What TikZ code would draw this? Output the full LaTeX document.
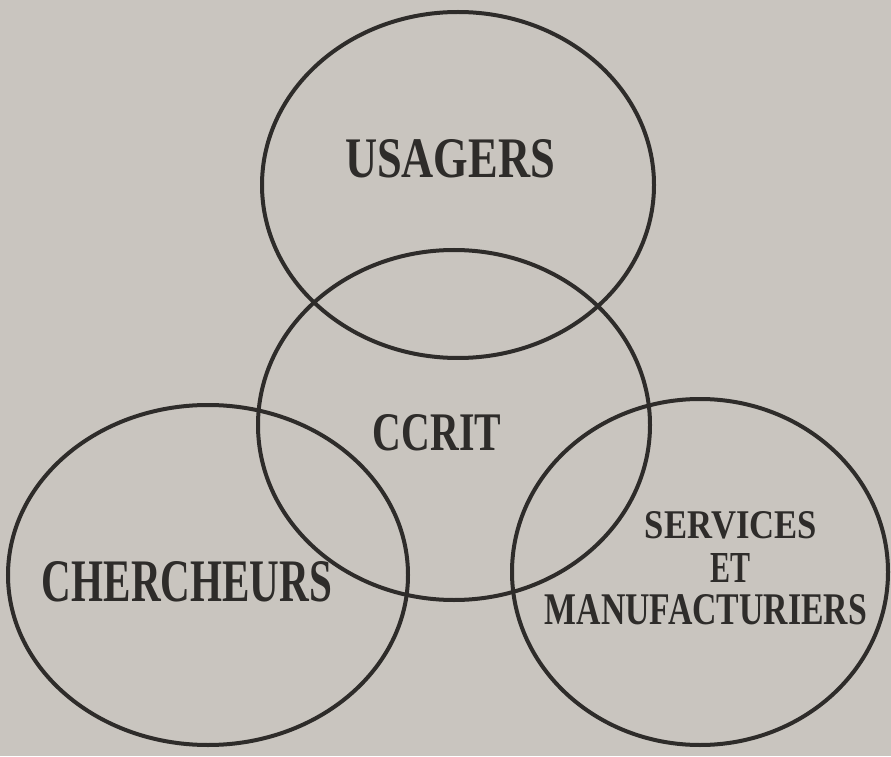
\documentclass[tikz,border=0pt]{standalone}
\usepackage{fontspec}
\setmainfont{Liberation Serif}
\usepackage{graphicx}
\definecolor{bg}{HTML}{C9C5BF}
\definecolor{ink}{HTML}{2E2C2A}
\tikzset{
  ring/.style={draw=ink, line width=4pt, fill=none},
  lbl/.style={text=ink, inner sep=0pt, anchor=center}
}
\newcommand{\fitlbl}[3]{\resizebox{#1pt}{#2pt}{\bfseries #3}}
\begin{document}
\begin{tikzpicture}[x=1pt,y=1pt]
\fill[bg] (0,0) rectangle (891,756);
\useasboundingbox (0,0) rectangle (891,756);
% top ellipse (USAGERS)
\draw[ring] (458,571) ellipse [x radius=196, y radius=173];
% middle ellipse (CCRIT)
\draw[ring] (454,331) ellipse [x radius=196, y radius=175];
% left ellipse (CHERCHEURS)
\draw[ring] (208,181) ellipse [x radius=200, y radius=170];
% right ellipse (SERVICES)
\draw[ring] (700,184) ellipse [x radius=188, y radius=173];
\node[lbl] (usagers) at (450,597) {\fitlbl{210}{38}{USAGERS}};
\node[lbl] (ccrit) at (437,323) {\fitlbl{128}{36}{CCRIT}};
\node[lbl] (chercheurs) at (187,174) {\fitlbl{290}{40}{CHERCHEURS}};
\node[lbl] (services) at (731,231) {\fitlbl{172}{27}{SERVICES}};
\node[lbl] (et) at (730,188) {\fitlbl{40}{29}{ET}};
\node[lbl] (manuf) at (706,146) {\fitlbl{322}{30}{MANUFACTURIERS}};
\end{tikzpicture}
\end{document}
